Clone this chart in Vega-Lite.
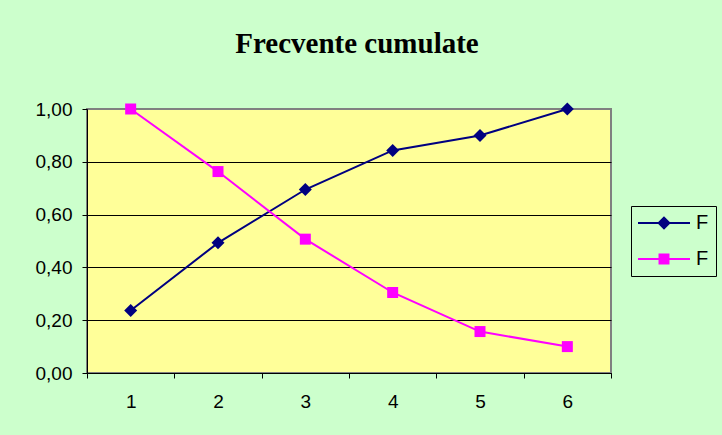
{
  "$schema": "https://vega.github.io/schema/vega-lite/v6.json",
  "width": 524,
  "height": 264,
  "autosize": {"type": "none"},
  "padding": {"left": 87, "top": 109, "right": 111, "bottom": 62},
  "background": "#CCFFCC",
  "title": {
    "text": "Frecvente cumulate",
    "font": "Liberation Serif",
    "fontSize": 29,
    "fontWeight": "bold",
    "color": "black",
    "anchor": "middle",
    "frame": "group",
    "dx": 8,
    "baseline": "alphabetic",
    "offset": 18
  },
  "data": {
    "values": [
      {"x": "1", "series": "F1", "value": 0.237},
      {"x": "2", "series": "F1", "value": 0.493},
      {"x": "3", "series": "F1", "value": 0.695},
      {"x": "4", "series": "F1", "value": 0.843},
      {"x": "5", "series": "F1", "value": 0.9},
      {"x": "6", "series": "F1", "value": 1.0},
      {"x": "1", "series": "F2", "value": 1.0},
      {"x": "2", "series": "F2", "value": 0.763},
      {"x": "3", "series": "F2", "value": 0.507},
      {"x": "4", "series": "F2", "value": 0.305},
      {"x": "5", "series": "F2", "value": 0.157},
      {"x": "6", "series": "F2", "value": 0.1}
    ]
  },
  "encoding": {
    "x": {
      "field": "x",
      "type": "ordinal",
      "scale": {"type": "band", "paddingInner": 0, "paddingOuter": 0},
      "axis": {
        "title": null,
        "labelAngle": 0,
        "tickBand": "extent",
        "grid": false,
        "domainColor": "black",
        "domainWidth": 1,
        "tickColor": "black",
        "tickSize": 5,
        "labelFont": "Liberation Sans",
        "labelFontSize": 19,
        "labelColor": "black",
        "labelPadding": 14
      }
    },
    "y": {
      "field": "value",
      "type": "quantitative",
      "scale": {"domain": [0, 1], "nice": false},
      "axis": {
        "title": null,
        "values": [0, 0.2, 0.4, 0.6, 0.8, 1],
        "format": ".2f",
        "grid": true,
        "gridColor": {"condition": {"test": "datum.value >= 0.99", "value": "#808080"}, "value": "black"},
        "gridWidth": 1,
        "domainColor": "black",
        "domainWidth": 1,
        "tickColor": "black",
        "tickSize": 5,
        "labelFont": "Liberation Sans",
        "labelFontSize": 19,
        "labelColor": "black",
        "labelPadding": 10
      }
    },
    "color": {
      "field": "series",
      "type": "nominal",
      "scale": {"domain": ["F1", "F2"], "range": ["#000080", "#FF00FF"]},
      "legend": {
        "title": null,
        "orient": "none",
        "legendX": 544,
        "legendY": 97,
        "padding": 7,
        "strokeColor": "black",
        "fillColor": "#CCFFCC",
        "labelExpr": "'F'",
        "labelFont": "Liberation Sans",
        "labelFontSize": 20,
        "labelColor": "black",
        "labelOffset": 22,
        "symbolOffset": 16,
        "rowPadding": 16,
        "symbolSize": 196,
        "symbolStrokeWidth": 2,
        "encode": {
          "symbols": {
            "update": {
              "shape": {"signal": "datum.value === 'F1' ? 'M-3.714,0H3.714M-0.76,0L0,-0.76L0.76,0L0,0.76Z' : 'M-3.714,0H3.714M-0.64,-0.64H0.64V0.64H-0.64Z'"},
              "fill": {"scale": "color", "field": "value"},
              "stroke": {"scale": "color", "field": "value"},
              "size": {"value": 196},
              "strokeWidth": {"value": 2},
              "opacity": {"value": 1}
            }
          }
        }
      }
    }
  },
  "layer": [
    {"mark": {"type": "line", "strokeWidth": 2}},
    {
      "transform": [{"filter": "datum.series === 'F1'"}],
      "mark": {"type": "point", "filled": true, "opacity": 1, "shape": "diamond", "size": 169}
    },
    {
      "transform": [{"filter": "datum.series === 'F2'"}],
      "mark": {"type": "point", "filled": true, "opacity": 1, "shape": "square", "size": 121}
    }
  ],
  "config": {
    "locale": {"number": {"decimal": ",", "thousands": ".", "grouping": [3], "currency": ["", " €"]}},
    "view": {"fill": "#FFFF99", "stroke": "#808080", "strokeWidth": 2}
  }
}
